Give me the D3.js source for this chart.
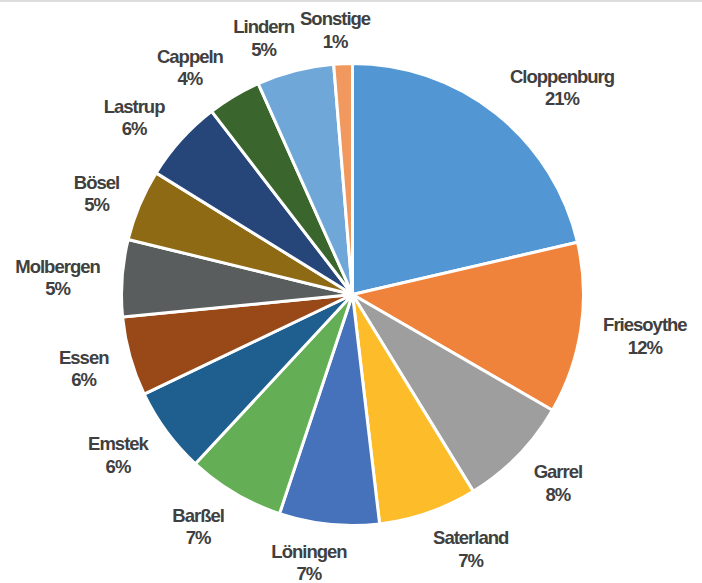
<!DOCTYPE html>
<html>
<head>
<meta charset="utf-8">
<script src="https://cdn.jsdelivr.net/npm/d3@7"></script>
<style>
  body { margin: 0; background: #fff; }
  text { font-family: "Liberation Sans", Arial, sans-serif; font-weight: bold; fill: #404040; }
</style>
</head>
<body>
<svg id="canvas" width="702" height="583"></svg>
<script>
var names = ["Cloppenburg", "Friesoythe", "Garrel", "Saterland", "Löningen", "Barßel", "Emstek",
  "Essen", "Molbergen", "Bösel", "Lastrup", "Cappeln", "Lindern", "Sonstige"];
var shares = [21.4, 12.0, 7.9, 6.9, 7.0, 6.8, 6.0, 5.55, 5.4, 5.0, 5.75, 3.75, 5.4, 1.3];
var colors = ["#5297d3", "#f0833b", "#9e9e9e", "#fdbd2b", "#4572bb", "#64ae55", "#1f5f8f",
  "#994818", "#5a5d5e", "#8f6a14", "#264679", "#3a652c", "#6fa8d8", "#f0985e"];

var svg = d3.select("#canvas"),
  width = +svg.attr("width"),
  height = +svg.attr("height"),
  radius = 231,
  g = svg.append("g").attr("transform", "translate(352.5,294.5)");

// thin frame line along the top
svg.append("rect").attr("x", 0).attr("y", 0).attr("width", width).attr("height", 2).attr("fill", "#dcdcdc");

var data = names.map(function(n, i) { return {name: n, value: shares[i], color: colors[i]}; });
var total = d3.sum(shares);

var pie = d3.pie()
  .sort(null)
  .value(function(d) { return d.value; });

var path = d3.arc()
  .outerRadius(radius)
  .innerRadius(0);

var arcs = pie(data);

g.selectAll(".arc")
  .data(arcs)
  .enter().append("path")
  .attr("class", "arc")
  .attr("d", path)
  .attr("fill", function(d) { return d.data.color; })
  .attr("stroke", "#fff")
  .attr("stroke-width", 3)
  .attr("stroke-linejoin", "round");

var fmt = function(v) { return Math.round(v / total * 100) + "%"; };
var lineH = 22.5, fontSize = 18.5;

var label = g.selectAll(".lbl")
  .data(arcs)
  .enter().append("g")
  .attr("class", "lbl");

label.append("text")
  .attr("text-anchor", "middle")
  .style("font-size", fontSize + "px")
  .style("letter-spacing", "-1px")
  .each(function(d) {
    var t = d3.select(this);
    t.append("tspan").attr("x", 0).attr("dy", 0).text(d.data.name);
    t.append("tspan").attr("x", 0).attr("dy", lineH).text(fmt(d.data.value));
  });

// label box sits just outside the pie along the mid angle, pushed sideways by its half width
label.attr("transform", function(d) {
  var w = this.getBBox().width;
  var a = (d.startAngle + d.endAngle) / 2;
  var s = Math.sin(a), c = -Math.cos(a);
  var r = 251;
  var cx = r * s + w / 2 * Math.tanh(5 * s) + 2 * s;
  var cy = r * c + 16 * c;
  return "translate(" + cx + "," + (cy - 2.5) + ")";
});
</script>
</body>
</html>
